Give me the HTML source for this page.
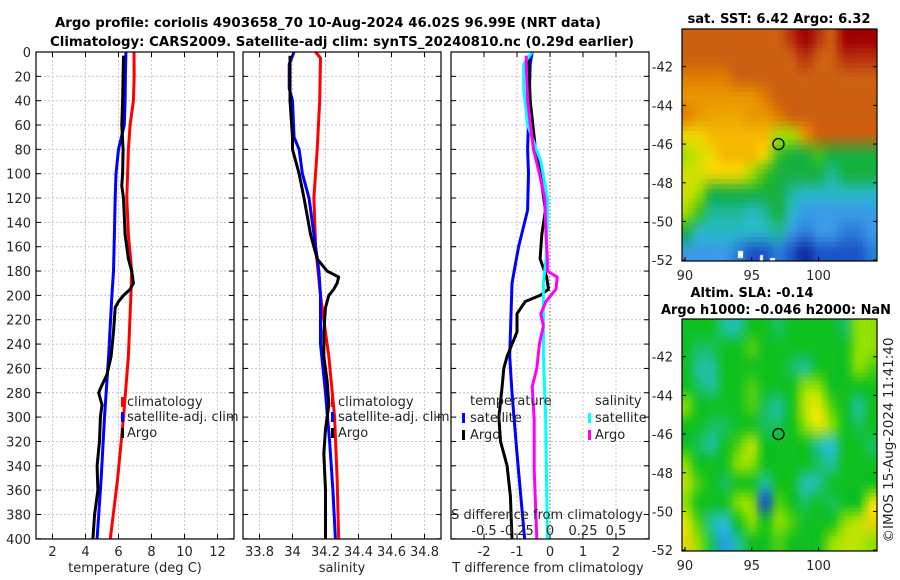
<!DOCTYPE html>
<html><head><meta charset="utf-8">
<style>
html,body{margin:0;padding:0;background:#fff;}
#wrap{position:relative;width:900px;height:580px;overflow:hidden;font-family:"DejaVu Sans","Liberation Sans",sans-serif;}
canvas{position:absolute;}
svg{position:absolute;left:0;top:0;}
text{font-family:"DejaVu Sans","Liberation Sans",sans-serif;fill:#262626;}
.b{font-weight:bold;fill:#000;}
</style></head>
<body>
<div id="wrap">
<canvas id="map1" width="195" height="232" style="left:682px;top:29px"></canvas>
<canvas id="map2" width="195" height="232" style="left:682px;top:319px"></canvas>
<svg id="fig" width="900" height="580" xmlns="http://www.w3.org/2000/svg">
<text class="b" x="328" y="27" text-anchor="middle" font-size="13.5" textLength="546" lengthAdjust="spacingAndGlyphs">Argo profile: coriolis 4903658_70 10-Aug-2024 46.02S 96.99E (NRT data)</text>
<text class="b" x="342" y="46" text-anchor="middle" font-size="13.5" textLength="584" lengthAdjust="spacingAndGlyphs">Climatology: CARS2009. Satellite-adj clim: synTS_20240810.nc (0.29d earlier)</text>
<text class="b" x="779" y="23" text-anchor="middle" font-size="13.5" textLength="183" lengthAdjust="spacingAndGlyphs">sat. SST: 6.42 Argo: 6.32</text>
<text class="b" x="752" y="297" text-anchor="middle" font-size="13.5" textLength="123" lengthAdjust="spacingAndGlyphs">Altim. SLA: -0.14</text>
<text class="b" x="776" y="314" text-anchor="middle" font-size="13.5" textLength="230" lengthAdjust="spacingAndGlyphs">Argo h1000: -0.046 h2000: NaN</text>
<text x="893" y="440" text-anchor="middle" font-size="13" transform="rotate(-90 893 440)" textLength="205" lengthAdjust="spacingAndGlyphs">©IMOS 15-Aug-2024 11:41:40</text>
<g id="g"></g>
</svg>
</div>
<script>
// ---- profile data ----
const tDepth=[0,20,40,60,80,100,120,150,180,200,250,300,350,400];
const tClim=[6.94,6.95,6.9,6.7,6.6,6.55,6.5,6.6,6.8,6.75,6.6,6.3,5.95,5.5];
const tSat=[6.45,6.42,6.4,6.35,6.0,5.85,5.8,5.75,5.7,5.6,5.4,5.15,4.95,4.7];
const argoTDepth=[3,20,40,60,80,100,110,120,150,170,180,190,195,200,205,210,230,250,265,275,280,290,300,320,340,360,380,400];
const argoT=[6.3,6.28,6.25,6.2,6.28,6.25,6.2,6.3,6.4,6.6,6.8,6.9,6.7,6.3,6.0,5.8,5.7,5.55,5.3,4.95,4.8,5.0,4.9,4.85,4.7,4.75,4.55,4.45];
const sClimDepth=[0,5,40,80,120,160,200,250,300,350,400];
const sClim=[34.14,34.17,34.165,34.15,34.13,34.14,34.17,34.22,34.255,34.27,34.28];
const sSatDepth=[0,10,30,40,70,80,100,120,160,180,200,240,280,320,360,400];
const sSat=[34.01,33.98,33.98,34.0,34.01,34.04,34.06,34.1,34.14,34.16,34.17,34.17,34.2,34.225,34.245,34.26];
const argoSDepth=[3,40,70,80,100,120,150,170,180,185,190,195,200,210,230,250,270,290,310,330,360,400];
const argoS=[33.985,33.985,34.0,34.0,34.04,34.07,34.11,34.15,34.21,34.28,34.27,34.25,34.22,34.2,34.19,34.19,34.21,34.22,34.2,34.19,34.2,34.2];
const dTSatDepth=[0,10,80,100,130,160,190,250,280,330,400];
const dTSat=[-0.54,-0.6,-0.68,-0.65,-0.68,-0.95,-1.15,-1.22,-1.15,-1.0,-0.77];
const dTArgoDepth=[3,40,80,100,130,150,170,185,195,200,205,215,230,250,260,275,300,320,340,365,400];
const dTArgo=[-0.65,-0.6,-0.44,-0.29,-0.14,-0.25,-0.3,-0.1,-0.05,-0.3,-0.75,-1.0,-1.0,-1.3,-1.4,-1.45,-1.55,-1.5,-1.3,-1.2,-1.15];
const dSSatDepth=[0,10,30,60,90,120,140,170,190,250,300,400];
const dSSat=[-0.135,-0.2,-0.2,-0.17,-0.07,-0.02,-0.02,-0.03,-0.05,-0.05,-0.033,-0.02];
const dSArgoDepth=[3,10,40,80,100,120,150,170,180,185,195,205,215,225,240,260,275,302,343,400];
const dSArgo=[-0.18,-0.18,-0.17,-0.125,-0.08,-0.04,-0.03,-0.02,-0.02,0.055,0.045,-0.03,-0.07,-0.05,-0.08,-0.1,-0.135,-0.12,-0.12,-0.1];
const depthTicks=[0,20,40,60,80,100,120,140,160,180,200,220,240,260,280,300,320,340,360,380,400];
const tTicks=[2,4,6,8,10,12];
const sTicks=[33.8,34,34.2,34.4,34.6,34.8];
const dTTicks=[-2,-1,0,1,2];
const dSTicks=[-0.5,-0.25,0,0.25,0.5];
const dSTickLabels=["-0.5","-0.25","0","0.25","0.5"];
const latTicks=[-42,-44,-46,-48,-50,-52];
const lonTicks=[90,95,100];
// ---- map data (grid values, rows lat -40.5..-51.5, cols lon 90..104) ----
const sstGrid=[
[8,8,8,8,8,8,8,8,9,10,9,8,10,10,10],
[8,8,8,8,8,8,8,8,8,9,8,8,9,9,9],
[7.5,7.5,7.5,7.5,8,8,8,8,8,8,8,8,8,8,8],
[7,7,7,7,7,7,7.5,8,8,8,8,8,8,8,8],
[7.5,7,6.8,6.8,6.8,7,7,7.5,8,8,8,8,8,8,8],
[6,6,6.5,6.5,6.5,6.5,6.5,5,5,7,8,8,8,8,8],
[5,5.5,6,6.5,6.5,6.5,6,4.5,4,4,4.5,4,4,4,4],
[5.5,5.5,6,6,6,5,4.5,4,4,4,4,3.5,4,4,4],
[5.5,5,4,4,4,4,4,4,3.5,3,3,3,3,3,3],
[5,4.5,3.5,3.5,3.5,3,3.5,4,3,2.5,2.5,2.5,2.5,2.5,2.5],
[4,3,3,3,3,3,3,3.5,2.5,2,2.5,2.5,2,2,2.5],
[2.5,2.5,2.5,2.5,2,1.5,1.5,2,1.5,1,1.5,1.5,1.5,1.5,2]];
const slaGrid=[
[4,4,4,3,3,4,4,3.5,4,4,4,4,3.5,5,5],
[4,3.5,3.5,4,4,4.5,4,4,4,4,4,4,4,5,5],
[4,3,3,4,4,4,4,4,3.5,3,4,4,4,5,4.5],
[4,3.5,3,4,4,4.5,4,4,4,5,5,4,4,4,4],
[5,4,4,4,4,4.5,3.5,3,4,5.5,6,4.5,4,3,4],
[4,4,3.5,3.5,4,4,3.5,3.5,4,5,6,5,4,3.5,4],
[4,3.5,3,4,4.5,5.5,4,4,4,4,3,2,4,4,3.5],
[5,4,4,4,5,5,4,4,4,4,3.5,3,4,4,4],
[5.5,4.5,4,3.5,4,4,3,4,4,2.5,3,4,4,4,4],
[5,4,4,4,5,5,0.5,4.5,4,3.5,4,3.5,4,4,6],
[6,4.5,3,2,4,5,4,5,4.5,4,4,4,5,5.5,6.5],
[6.5,5,3.5,1.5,3,4,4,4.5,4,4,4,5,5.5,5.5,5]];
const sstPal=[[1,"#102a9e"],[1.5,"#1d55c8"],[2,"#2a7ed8"],[2.5,"#3a9ae6"],[3,"#28b8c8"],[3.5,"#20b89a"],[4,"#18b040"],[4.5,"#40c020"],[5,"#a8dc00"],[5.5,"#d0e000"],[6,"#f0d800"],[6.5,"#f4b800"],[7,"#e89800"],[7.5,"#e07c00"],[8,"#cc6010"],[9,"#b83010"],[10,"#a00000"]];
const slaPal=[[0,"#0018b0"],[1,"#1a80f0"],[2,"#28c0d8"],[3,"#20c0a0"],[4,"#10c020"],[5,"#90e000"],[6,"#e8e800"],[7,"#f0c000"]];

const NS="http://www.w3.org/2000/svg";
const G=document.getElementById('g');
function mk(tag,attrs,parent){const e=document.createElementNS(NS,tag);for(const k in attrs)e.setAttribute(k,attrs[k]);(parent||G).appendChild(e);return e;}
const yD=d=>52+d*1.217;
const xT=t=>36+(t-1)*16.5;
const xS=s=>243+(s-33.7)*165;
const xDT=v=>451+(v+3)*33;
const xDS=v=>xDT(v*4);
const panels=[{x0:36,x1:234},{x0:243,x1:441},{x0:451,x1:649}];
const Y0=52,Y1=539;

// grids
panels.forEach((p,i)=>{
  depthTicks.forEach(d=>{const l=mk('line',{x1:p.x0,x2:p.x1,y1:yD(d),y2:yD(d),stroke:'#b8c4ec','stroke-width':1,'stroke-dasharray':'2,2'});
    });
});
function vgrid(vals,fx){vals.forEach(v=>{const l=mk('line',{x1:fx(v),x2:fx(v),y1:Y0,y2:Y1,stroke:'#e0c0c8','stroke-width':1,'stroke-dasharray':'2,2'});
  });}
vgrid(tTicks,xT);vgrid(sTicks,xS);vgrid(dTTicks.filter(v=>v!==0),xDT);
{const l=mk('line',{x1:xDT(0),x2:xDT(0),y1:Y0,y2:Y1,stroke:'#556b2f','stroke-width':1,'stroke-dasharray':'1.5,2'});
}

function line(xs,ds,fx,color,name){
  const pts=xs.map((v,i)=>fx(v).toFixed(1)+','+yD(ds[i]).toFixed(1)).join(' ');
  const e=mk('polyline',{points:pts,fill:'none',stroke:color,'stroke-width':3,'stroke-linejoin':'round'});
  
  
}
line(tClim,tDepth,xT,'#ff0000','temp-climatology-line');
line(tSat,tDepth,xT,'#0000ff','temp-satellite-line');
line(argoT,argoTDepth,xT,'#000000','temp-argo-line');
line(sClim,sClimDepth,xS,'#ff0000','sal-climatology-line');
line(sSat,sSatDepth,xS,'#0000ff','sal-satellite-line');
line(argoS,argoSDepth,xS,'#000000','sal-argo-line');
line(dTSat,dTSatDepth,xDT,'#0000ff','tdiff-satellite-line');
line(dTArgo,dTArgoDepth,xDT,'#000000','tdiff-argo-line');
line(dSSat,dSSatDepth,xDS,'#00ffff','sdiff-satellite-line');
line(dSArgo,dSArgoDepth,xDS,'#ff00ff','sdiff-argo-line');

// frames & ticks
function frame(x0,y0,x1,y1,name){const r=mk('rect',{x:x0,y:y0,width:x1-x0,height:y1-y0,fill:'none',stroke:'#000','stroke-width':1.2});
  }
panels.forEach((p,i)=>{
  frame(p.x0,Y0,p.x1,Y1,'panel-frame');
  depthTicks.forEach(d=>{mk('line',{x1:p.x0,x2:p.x0+5,y1:yD(d),y2:yD(d),stroke:'#000'});mk('line',{x1:p.x1,x2:p.x1-5,y1:yD(d),y2:yD(d),stroke:'#000'});});
});
depthTicks.forEach(d=>{const t=mk('text',{x:31,y:yD(d)+5,'text-anchor':'end','font-size':13});t.textContent=d;
  });
function xticks(vals,labels,fx,y,name){vals.forEach((v,i)=>{
  mk('line',{x1:fx(v),x2:fx(v),y1:Y1,y2:Y1-5,stroke:'#000'});mk('line',{x1:fx(v),x2:fx(v),y1:Y0,y2:Y0+5,stroke:'#000'});
  const t=mk('text',{x:fx(v),y:y,'text-anchor':'middle','font-size':13});t.textContent=labels[i];
  });}
xticks(tTicks,tTicks.map(String),xT,556,'temp-tick-label');
xticks(sTicks,sTicks.map(String),xS,556,'sal-tick-label');
xticks(dTTicks,dTTicks.map(String),xDT,556,'tdiff-tick-label');
dSTicks.forEach((v,i)=>{const t=mk('text',{x:xDS(v),y:535,'text-anchor':'middle','font-size':13});t.textContent=dSTickLabels[i];
  });
function txt(x,y,s,name,anchor,size){const t=mk('text',{x:x,y:y,'text-anchor':anchor||'start','font-size':size||13});t.textContent=s;
  return t;}
txt(135,572,'temperature (deg C)','temp-axis-title','middle');
txt(342,572,'salinity','sal-axis-title','middle');
txt(548,572,'T difference from climatology','tdiff-axis-title','middle');
txt(547,519,'S difference from climatology','sdiff-axis-title','middle');

// legends
function legItem(bx,tx,y,color,label,name){
  const b=mk('rect',{x:bx,y:y-9,width:3,height:10,fill:color});
  
  txt(tx,y,label,name,'start',13);
}
legItem(121,127,406,'#ff0000','climatology','legend-climatology');
legItem(121,127,421,'#0000ff','satellite-adj. clim','legend-satellite-adj');
legItem(121,127,437,'#000000','Argo','legend-argo');
legItem(331,338,406,'#ff0000','climatology','legend-climatology-sal');
legItem(331,338,421,'#0000ff','satellite-adj. clim','legend-satellite-adj-sal');
legItem(331,338,437,'#000000','Argo','legend-argo-sal');
txt(470,405,'temperature','legend-temperature-header');
legItem(462,470,422,'#0000ff','satellite','legend-tdiff-satellite');
legItem(462,470,439,'#000000','Argo','legend-tdiff-argo');
txt(595,405,'salinity','legend-salinity-header');
legItem(588,595,422,'#00ffff','satellite','legend-sdiff-satellite');
legItem(588,595,439,'#ff00ff','Argo','legend-sdiff-argo');

// maps
function hex(c){return [parseInt(c.substr(1,2),16),parseInt(c.substr(3,2),16),parseInt(c.substr(5,2),16)];}
function col(pal,v){if(v<=pal[0][0])return hex(pal[0][1]);
  for(let i=1;i<pal.length;i++){if(v<=pal[i][0]){const a=hex(pal[i-1][1]),b=hex(pal[i][1]),f=(v-pal[i-1][0])/(pal[i][0]-pal[i-1][0]);return a.map((q,k)=>Math.round(q+(b[k]-q)*f));}}
  return hex(pal[pal.length-1][1]);}
function drawMap(id,grid,pal,mid){
  const rows=grid.length,cols=grid[0].length;
  const s=document.createElement('canvas');s.width=cols;s.height=rows;
  const sc=s.getContext('2d');const im=sc.createImageData(cols,rows);
  grid.forEach((r,j)=>r.forEach((v,i)=>{const c=col(pal,v);const k=(j*cols+i)*4;im.data[k]=c[0];im.data[k+1]=c[1];im.data[k+2]=c[2];im.data[k+3]=255;}));
  sc.putImageData(im,0,0);
  const m=document.createElement('canvas');m.width=cols*mid;m.height=rows*mid;
  const mc=m.getContext('2d');mc.imageSmoothingEnabled=true;mc.imageSmoothingQuality='high';mc.drawImage(s,0,0,m.width,m.height);
  const c=document.getElementById(id).getContext('2d');c.imageSmoothingEnabled=false;
  // lon 89.5..104.5 mapped; canvas spans lon 89.78..104.4
  const lx=(89.78-89.5)/15*m.width, lw=(104.4-89.78)/15*m.width;
  c.drawImage(m,lx,0,lw,m.height,0,0,195,232);
}
drawMap('map1',sstGrid,sstPal,4);
drawMap('map2',slaGrid,slaPal,5);
{const c=document.getElementById('map1').getContext('2d');c.fillStyle='#fff';c.fillRect(56,222,5,7);c.fillRect(78,226,3,6);c.fillRect(88,229,5,3);}

const lonX=lon=>682+(lon-89.78)*13.36;
function mapAxes(top,name){
  const latY=lat=>top+(-40.05-lat)*19.34;
  frame(682,top,877,top+232,name+'-frame');
  latTicks.forEach(l=>{mk('line',{x1:682,x2:686,y1:latY(l),y2:latY(l),stroke:'#000'});mk('line',{x1:877,x2:873,y1:latY(l),y2:latY(l),stroke:'#000'});
    txt(673,latY(l)+5,String(l),name+'-lat-label','end');});
  lonTicks.forEach(l=>{mk('line',{x1:lonX(l),x2:lonX(l),y1:top+232,y2:top+228,stroke:'#000'});
    txt(lonX(l),top+251,String(l),name+'-lon-label','middle');});
  const c=mk('circle',{cx:lonX(97),cy:latY(-46),r:5.5,fill:'none',stroke:'#000','stroke-width':1.3});
  
}
mapAxes(29,'sst-map');
mapAxes(319,'sla-map');
</script>
</body></html>
